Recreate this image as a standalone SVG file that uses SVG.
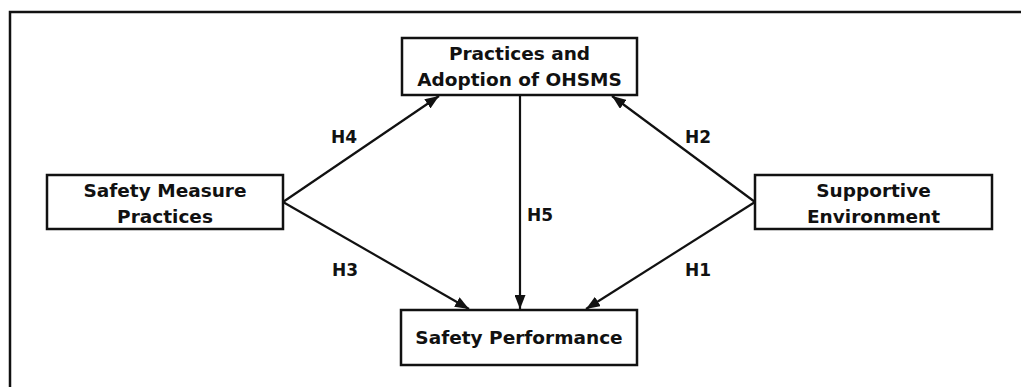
<svg xmlns="http://www.w3.org/2000/svg" width="1021" height="387" viewBox="0 0 1021 387">
<style>
.box{fill:#fff;stroke:#111;stroke-width:2.5}
.t{font-family:"DejaVu Sans",Verdana,sans-serif;font-weight:bold;font-size:18.5px;fill:#111;text-anchor:middle}
.h{font-family:"DejaVu Sans",Verdana,sans-serif;font-weight:bold;font-size:17px;fill:#111;text-anchor:middle}
.c{stroke:#111;stroke-width:2.2;fill:none;marker-end:url(#ah)}
</style>
<defs>
<marker id="ah" viewBox="0 0 14 11" refX="14" refY="5.5" markerWidth="14" markerHeight="11" markerUnits="userSpaceOnUse" orient="auto">
<path d="M0,0 L14,5.5 L0,11 Z" fill="#111"/>
</marker>
</defs>
<rect x="0" y="0" width="1021" height="387" fill="#fff"/>
<rect x="10" y="12" width="1030" height="400" fill="none" stroke="#111" stroke-width="2.5"/>
<g id="connectors">
<line class="c" x1="283" y1="202" x2="439" y2="96"/>
<line class="c" x1="283" y1="202" x2="469" y2="309"/>
<line class="c" x1="755" y1="202" x2="612" y2="96"/>
<line class="c" x1="755" y1="202" x2="586" y2="309"/>
<line class="c" x1="520" y1="96" x2="520" y2="309"/>
<text class="h" x="344" y="143">H4</text>
<text class="h" x="345" y="276">H3</text>
<text class="h" x="698" y="143">H2</text>
<text class="h" x="698" y="276">H1</text>
<text class="h" x="540" y="221">H5</text>
</g>
<g id="ohsms">
<rect class="box" x="402" y="38" width="235" height="57"/>
<text class="t" x="519.5" y="60">Practices and</text>
<text class="t" x="519.5" y="86">Adoption of OHSMS</text>
</g>
<g id="safety-measure">
<rect class="box" x="47" y="175" width="236" height="54"/>
<text class="t" x="165" y="197">Safety Measure</text>
<text class="t" x="165" y="223">Practices</text>
</g>
<g id="supportive">
<rect class="box" x="755" y="175" width="237" height="54"/>
<text class="t" x="873.5" y="197">Supportive</text>
<text class="t" x="873.5" y="223">Environment</text>
</g>
<g id="performance">
<rect class="box" x="401" y="310" width="236" height="55"/>
<text class="t" x="519" y="344">Safety Performance</text>
</g>
</svg>
